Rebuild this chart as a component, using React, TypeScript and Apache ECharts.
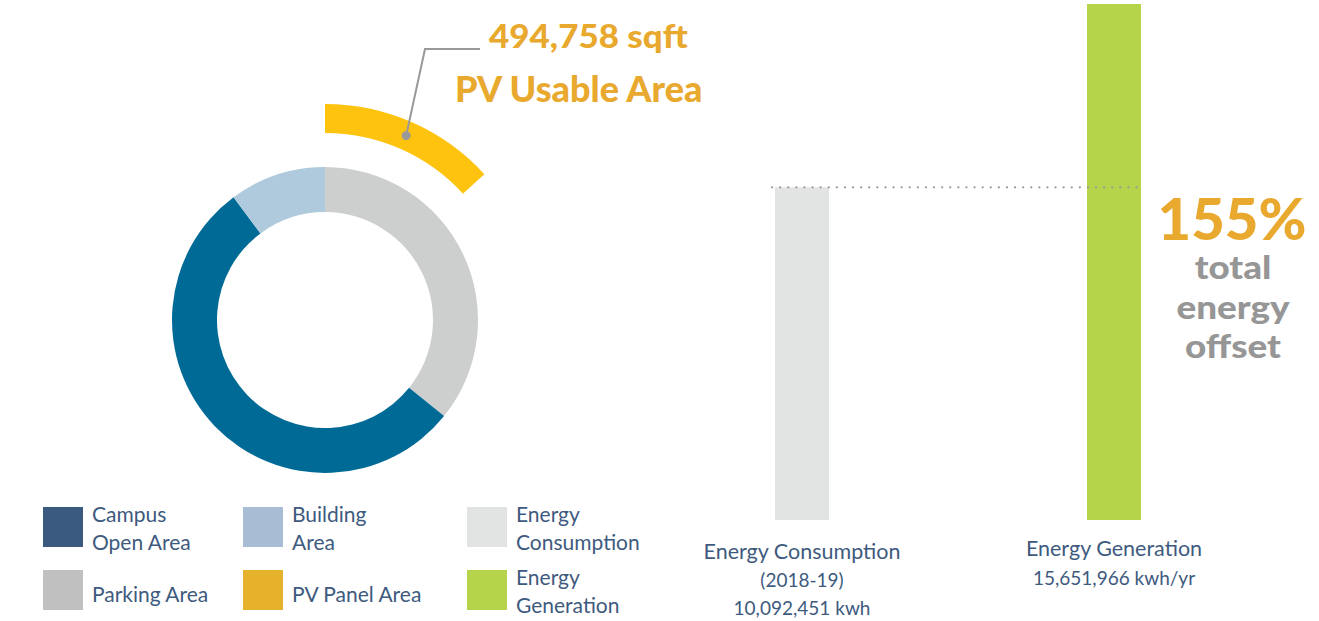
import React, { useEffect, useRef } from 'react';
import * as echarts from 'echarts';

// ---- data ----
const areaNames = ['Parking Area', 'Campus Open Area', 'Building Area'];
const areaShares = [35.8, 54.0, 10.2];
const areaColors = ['#cdcfce', '#006a97', '#aecadc'];
const pvShare = 13.2; // share of the outer ring covered by the PV arc
const pvArea = 494758;
const pvTitle = 'PV Usable Area';
const energyCategories = ['Energy Consumption', 'Energy Generation'];
const energyValues = [10092451, 15651966];
const energyColors = ['#e2e3e3', '#b5d44a'];
const energyPeriods = ['(2018-19)', ''];
const energyUnits = ['kwh', 'kwh/yr'];
const offsetPct = '155%';
const offsetWords = ['total', 'energy', 'offset'];
const legendNames = [
  ['Campus', 'Open Area'],
  ['Building', 'Area'],
  ['Energy', 'Consumption'],
  ['Parking Area'],
  ['PV Panel Area'],
  ['Energy', 'Generation'],
];
const legendColors = ['#3a5a80', '#a8bdd3', '#e2e4e4', '#c0c0c0', '#e6b12b', '#b5d44a'];

const FONT = 'Lato, "Open Sans", sans-serif';
const NAVY = '#3e5a7e';
const ORANGE = '#e8a92e';
const GREY = '#969696';

export default function App() {
  const ref = useRef<HTMLDivElement>(null);
  useEffect(() => {
    if (!ref.current) return;
    const chart = echarts.init(ref.current, undefined, { renderer: 'svg' });
    const cx = 325;
    const cy = 320;
    const fmt = (v: number) => v.toLocaleString('en-US');

    chart.setOption({
      animation: false,
      grid: { left: 646, right: 49, top: 4, bottom: 101 },
      xAxis: {
        type: 'category',
        data: energyCategories,
        axisLine: { show: false },
        axisTick: { show: false },
        axisLabel: {
          interval: 0,
          margin: 17,
          verticalAlign: 'top',
          fontFamily: FONT,
          color: NAVY,
          formatter: (v: string, i: number) => {
            if (energyPeriods[i]) {
              return [
                `{a|${v}}`,
                `{b|${energyPeriods[i]}}`,
                `{b|${fmt(energyValues[i])} ${energyUnits[i]}}`,
              ].join('\n');
            }
            return [`{a2|${v}}`, `{c2|${fmt(energyValues[i])} ${energyUnits[i]}}`].join('\n');
          },
          rich: {
            a: { fontSize: 21.5, lineHeight: 28, fontFamily: FONT, color: NAVY },
            b: { fontSize: 19, lineHeight: 28, fontFamily: FONT, color: NAVY },
            a2: { fontSize: 21.5, lineHeight: 22, fontFamily: FONT, color: NAVY },
            c2: { fontSize: 19, lineHeight: 36, fontFamily: FONT, color: NAVY },
          },
        },
      },
      yAxis: {
        type: 'value',
        min: 0,
        max: 'dataMax',
        show: false,
        splitLine: { show: false },
      },
      series: [
        {
          type: 'pie',
          silent: true,
          center: [cx, cy],
          radius: [108, 153],
          startAngle: 90,
          clockwise: true,
          label: { show: false },
          labelLine: { show: false },
          data: areaNames.map((n, i) => ({ name: n, value: areaShares[i], itemStyle: { color: areaColors[i] } })),
        },
        {
          type: 'pie',
          silent: true,
          center: [cx, cy],
          radius: [187, 216],
          startAngle: 90,
          clockwise: true,
          label: { show: false },
          labelLine: { show: false },
          data: [
            { name: 'PV Panel Area', value: pvShare, itemStyle: { color: '#fec30f' } },
            { name: 'rest', value: 100 - pvShare, itemStyle: { color: 'rgba(0,0,0,0)' } },
          ],
        },
        {
          type: 'bar',
          silent: true,
          barWidth: 54,
          data: energyValues.map((v, i) => ({ value: v, itemStyle: { color: energyColors[i] } })),
        },
      ],
    });

    // derived positions
    const yCons = chart.convertToPixel({ yAxisIndex: 0 }, energyValues[0]) as number;
    const x0 = chart.convertToPixel({ xAxisIndex: 0 }, 0) as number;
    const x1 = chart.convertToPixel({ xAxisIndex: 0 }, 1) as number;

    const midA = ((pvShare / 100) * 360) / 2 * Math.PI / 180;
    const midR = (187 + 216) / 2;
    const dotX = cx + midR * Math.sin(midA);
    const dotY = cy - midR * Math.cos(midA);

    const graphics: any[] = [];
    graphics.push({
      type: 'line',
      silent: true,
      shape: { x1: x0 - 30, y1: yCons, x2: x1 + 27, y2: yCons },
      style: { stroke: '#9a9a9a', lineWidth: 2.2, lineDash: [0.1, 8], lineCap: 'round' },
      z: 10,
    });
    graphics.push({
      type: 'polyline',
      silent: true,
      shape: { points: [[dotX, dotY], [425, 49], [480, 49]] },
      style: { stroke: '#999', lineWidth: 2, fill: null },
      z: 10,
    });
    graphics.push({
      type: 'circle',
      silent: true,
      shape: { cx: dotX, cy: dotY, r: 4.5 },
      style: { fill: '#999' },
      z: 11,
    });
    graphics.push({
      type: 'text',
      silent: true,
      x: 489,
      y: 35,
      scaleX: 1.06,
      style: { text: `${fmt(pvArea)} sqft`, font: `900 33px ${FONT}`, fill: ORANGE, verticalAlign: 'middle', align: 'left' },
    });
    graphics.push({
      type: 'text',
      silent: true,
      x: 455,
      y: 88,
      style: { text: pvTitle, font: `900 36px ${FONT}`, fill: ORANGE, verticalAlign: 'middle', align: 'left' },
    });
    graphics.push({
      type: 'text',
      silent: true,
      x: 1232,
      y: 217,
      style: { text: offsetPct, font: `900 58px ${FONT}`, fill: ORANGE, verticalAlign: 'middle', align: 'center' },
    });
    graphics.push({
      type: 'text',
      silent: true,
      x: 1233,
      y: 247,
      scaleX: 1.15,
      style: {
        text: offsetWords.join('\n'),
        font: `900 32px ${FONT}`,
        lineHeight: 39.5,
        fill: GREY,
        verticalAlign: 'top',
        align: 'center',
      },
    });

    const colX = [43, 243, 467];
    const rowY = [507, 570];
    legendNames.forEach((lines, i) => {
      const col = i % 3;
      const row = Math.floor(i / 3);
      const x = colX[col];
      const y = rowY[row];
      graphics.push({
        type: 'rect',
        silent: true,
        shape: { x, y, width: 40, height: 40 },
        style: { fill: legendColors[i] },
      });
      graphics.push({
        type: 'text',
        silent: true,
        x: x + 49,
        y: lines.length === 2 ? y - 8 : y + 23,
        style: {
          text: lines.join('\n'),
          font: `21px ${FONT}`,
          lineHeight: 28,
          fill: NAVY,
          verticalAlign: lines.length === 2 ? 'top' : 'middle',
          align: 'left',
        },
      });
    });

    chart.setOption({ graphic: graphics });

    return () => chart.dispose();
  }, []);

  return (
    <div
      ref={ref}
      style={{ position: 'fixed', left: 0, top: 0, width: 1319, height: 621, background: '#fff' }}
    />
  );
}
